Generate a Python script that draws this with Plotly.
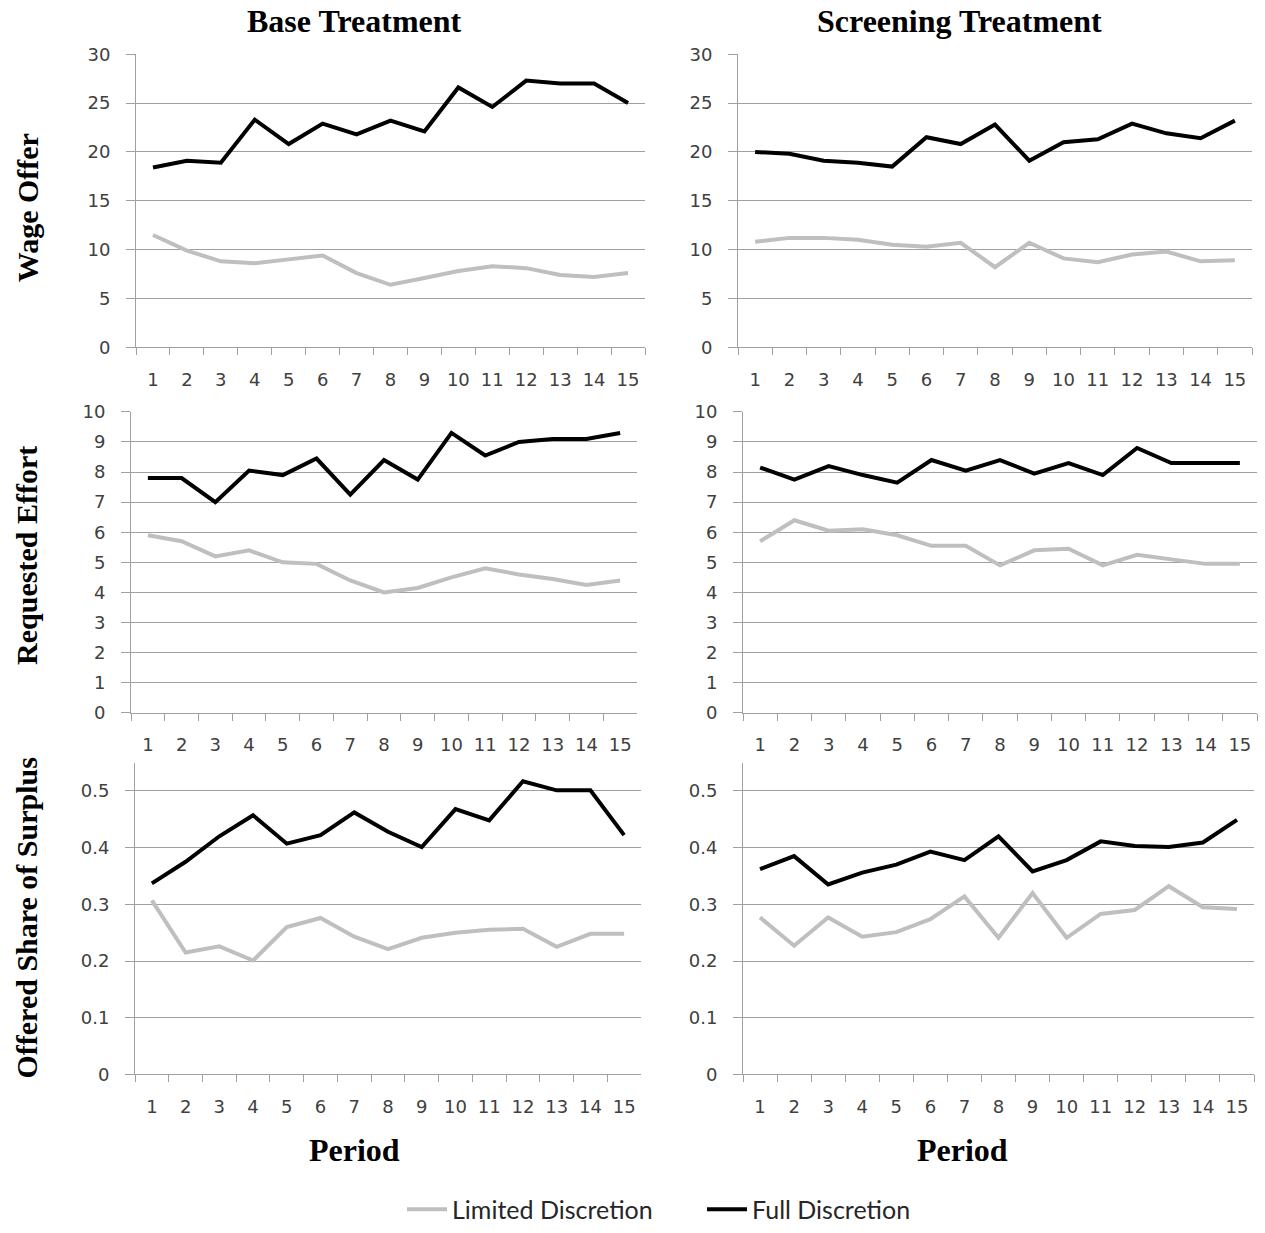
import plotly.graph_objects as go

periods = [str(p) for p in range(1, 16)]

base_wage_full = [18.4, 19.1, 18.9, 23.3, 20.8, 22.9, 21.8, 23.2, 22.1, 26.6, 24.6, 27.3, 27.0, 27.0, 25.0]
base_wage_limited = [11.5, 9.9, 8.8, 8.6, 9.0, 9.4, 7.6, 6.4, 7.1, 7.8, 8.3, 8.1, 7.4, 7.2, 7.6]
scr_wage_full = [20.0, 19.8, 19.1, 18.9, 18.5, 21.5, 20.8, 22.8, 19.1, 21.0, 21.3, 22.9, 21.9, 21.4, 23.2]
scr_wage_limited = [10.8, 11.2, 11.2, 11.0, 10.5, 10.3, 10.7, 8.2, 10.7, 9.1, 8.7, 9.5, 9.8, 8.8, 8.9]

base_effort_full = [7.8, 7.8, 7.0, 8.05, 7.9, 8.45, 7.25, 8.4, 7.75, 9.3, 8.55, 9.0, 9.1, 9.1, 9.3]
base_effort_limited = [5.9, 5.7, 5.2, 5.4, 5.0, 4.95, 4.4, 4.0, 4.15, 4.5, 4.8, 4.6, 4.45, 4.25, 4.4]
scr_effort_full = [8.15, 7.75, 8.2, 7.9, 7.65, 8.4, 8.05, 8.4, 7.95, 8.3, 7.9, 8.8, 8.3, 8.3, 8.3]
scr_effort_limited = [5.7, 6.4, 6.05, 6.1, 5.9, 5.55, 5.55, 4.9, 5.4, 5.45, 4.9, 5.25, 5.1, 4.95, 4.95]

base_share_full = [0.337, 0.375, 0.42, 0.457, 0.407, 0.422, 0.462, 0.428, 0.401, 0.468, 0.448, 0.517, 0.501, 0.501, 0.422]
base_share_limited = [0.307, 0.215, 0.226, 0.201, 0.26, 0.276, 0.243, 0.221, 0.241, 0.25, 0.255, 0.257, 0.225, 0.248, 0.248]
scr_share_full = [0.362, 0.385, 0.335, 0.356, 0.37, 0.393, 0.378, 0.42, 0.358, 0.378, 0.411, 0.403, 0.401, 0.409, 0.449]
scr_share_limited = [0.277, 0.227, 0.277, 0.243, 0.251, 0.274, 0.314, 0.241, 0.32, 0.241, 0.283, 0.29, 0.332, 0.295, 0.292]

col_titles = ["Base Treatment", "Screening Treatment"]
row_titles = ["Wage Offer", "Requested Effort", "Offered Share of Surplus"]
x_title = "Period"
series_names = ["Limited Discretion", "Full Discretion"]

W, H = 1265, 1233
GRAY = "#BFBFBF"
GRID = "#A0A0A0"

def px_x(v):
    return v / W

def px_y(v):
    # vertical correction for the capture pipeline
    v = (v - 11.5) / 0.9772
    return (H - v) / H

panels = [
    (base_wage_limited, base_wage_full, 136, 645, 55, 350, [0, 30], 5),
    (scr_wage_limited, scr_wage_full, 738, 1252, 55, 350, [0, 30], 5),
    (base_effort_limited, base_effort_full, 131, 637, 415, 718, [0, 10], 1),
    (scr_effort_limited, scr_effort_full, 743, 1257, 415, 718, [0, 10], 1),
    (base_share_limited, base_share_full, 135, 641, 768, 1082, [0, 0.55], 0.1),
    (scr_share_limited, scr_share_full, 743, 1254, 768, 1082, [0, 0.55], 0.1),
]

fig = go.Figure()
layout = {}
tickfont = dict(family="DejaVu Sans", size=18, color="#404040")

for i, (lim, full, x0, x1, yt, yb, rng, dt) in enumerate(panels, start=1):
    xa = "x" if i == 1 else f"x{i}"
    ya = "y" if i == 1 else f"y{i}"
    fig.add_trace(go.Scatter(x=periods, y=lim, mode="lines", name=series_names[0],
                             line=dict(color=GRAY, width=4), xaxis=xa, yaxis=ya,
                             showlegend=(i == 1), legendrank=1))
    fig.add_trace(go.Scatter(x=periods, y=full, mode="lines", name=series_names[1],
                             line=dict(color="black", width=4), xaxis=xa, yaxis=ya,
                             showlegend=(i == 1), legendrank=2))
    xkey = "xaxis" if i == 1 else f"xaxis{i}"
    ykey = "yaxis" if i == 1 else f"yaxis{i}"
    layout[xkey] = dict(domain=[px_x(x0), px_x(x1)], anchor=ya, type="category",
                        range=[-0.5, 14.5],
                        tickson="boundaries", ticks="outside", ticklen=7,
                        tickcolor=GRID, showline=True, linecolor=GRID, linewidth=1,
                        showgrid=False, tickfont=tickfont, ticklabelstandoff=16,
                        zeroline=False, fixedrange=True)
    layout[ykey] = dict(domain=[px_y(yb), px_y(yt)], anchor=xa, range=rng, dtick=dt,
                        tick0=0, ticks="outside", ticklen=9, tickcolor=GRID,
                        showline=True, linecolor=GRID, linewidth=1,
                        showgrid=True, gridcolor=GRID, gridwidth=1,
                        zeroline=False, tickfont=tickfont, ticklabelstandoff=12)

annotations = []
title_font = dict(family="Liberation Serif", size=32, color="black")
row_font = dict(family="Liberation Serif", size=30, color="black")
for txt, xc in zip(col_titles, [354, 960]):
    annotations.append(dict(text=f"<b>{txt}</b>", x=px_x(xc), y=px_y(22), xref="paper", yref="paper",
                            showarrow=False, xanchor="center", yanchor="middle", font=title_font))
for xc in [354, 962]:
    annotations.append(dict(text=f"<b>{x_title}</b>", x=px_x(xc), y=px_y(1158), xref="paper", yref="paper",
                            showarrow=False, xanchor="center", yanchor="middle", font=title_font))
for txt, yc in zip(row_titles, [210, 560, 925]):
    annotations.append(dict(text=f"<b>{txt}</b>", x=px_x(27), y=px_y(yc), xref="paper", yref="paper",
                            showarrow=False, xanchor="center", yanchor="middle", textangle=-90,
                            font=row_font))

fig.update_layout(
    width=W, height=H,
    margin=dict(l=0, r=0, t=0, b=0),
    paper_bgcolor="white", plot_bgcolor="white",
    annotations=annotations,
    legend=dict(orientation="h", x=px_x(402), y=px_y(1218), xanchor="left", yanchor="middle",
                font=dict(family="Lato", size=25, color="#262626"), itemwidth=40,
                entrywidth=245, traceorder="normal"),
    **layout,
)

fig.write_html("out.html",
               post_script="document.body.style.margin='0';document.body.style.overflow='hidden';")
